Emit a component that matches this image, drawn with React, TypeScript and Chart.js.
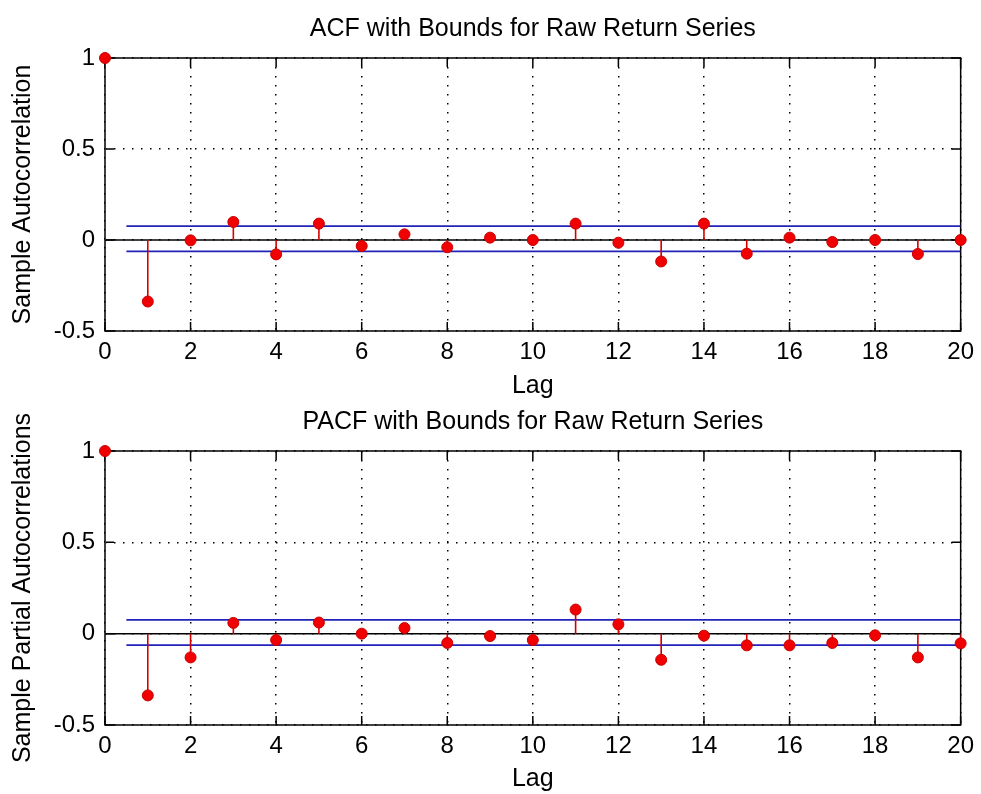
import React, { useEffect, useRef } from 'react';
import { Chart, registerables } from 'chart.js';

Chart.register(...registerables);

const lags = [0, 1, 2, 3, 4, 5, 6, 7, 8, 9, 10, 11, 12, 13, 14, 15, 16, 17, 18, 19, 20];
const acfValues = [1, -0.338, -0.002, 0.099, -0.079, 0.09, -0.033, 0.031, -0.04, 0.013, 0.0, 0.09, -0.015, -0.118, 0.09, -0.075, 0.013, -0.011, 0.0, -0.077, 0.0];
const pacfValues = [1, -0.338, -0.13, 0.059, -0.035, 0.061, 0.0, 0.031, -0.051, -0.013, -0.035, 0.132, 0.051, -0.143, -0.011, -0.064, -0.064, -0.051, -0.009, -0.13, -0.053];
const acfBounds = [0.076, -0.063];
const pacfBounds = [0.076, -0.063];
const boundLagRange = [0.5, 20];
const baselineLagRange = [0, 20];
const xTickValues = [0, 2, 4, 6, 8, 10, 12, 14, 16, 18, 20];
const xTickLabels = ['0', '2', '4', '6', '8', '10', '12', '14', '16', '18', '20'];
const yTickValues = [-0.5, 0, 0.5, 1];
const yTickLabels = ['-0.5', '0', '0.5', '1'];

const FONT = "'Liberation Sans', Arial, Helvetica, sans-serif";

const framePlugin = {
  id: 'matlabFrame',
  beforeDatasetsDraw(chart: any) {
    const { ctx, chartArea: a, scales } = chart;
    ctx.save();
    ctx.strokeStyle = '#000';
    ctx.lineWidth = 1.5;
    ctx.strokeRect(a.left, a.top, a.right - a.left, a.bottom - a.top);
    const L = 9;
    ctx.beginPath();
    scales.x.ticks.forEach((t: any) => {
      const px = scales.x.getPixelForValue(t.value);
      ctx.moveTo(px, a.bottom);
      ctx.lineTo(px, a.bottom - L);
      ctx.moveTo(px, a.top);
      ctx.lineTo(px, a.top + L);
    });
    scales.y.ticks.forEach((t: any) => {
      const py = scales.y.getPixelForValue(t.value);
      ctx.moveTo(a.left, py);
      ctx.lineTo(a.left + L, py);
      ctx.moveTo(a.right, py);
      ctx.lineTo(a.right - L, py);
    });
    ctx.stroke();
    ctx.restore();
  },
};

type PanelProps = {
  title: string;
  yLabel: string;
  values: number[];
  bounds: number[];
  top: number;
  height: number;
  plotTop: number;
  plotBottom: number;
  titleMid: number;
  xTitleOffset: number;
};

function Panel(p: PanelProps) {
  const ref = useRef<HTMLCanvasElement | null>(null);
  useEffect(() => {
    if (!ref.current) return;
    const stems: any[] = [];
    lags.forEach((l, i) => {
      stems.push({ x: l, y: 0 });
      stems.push({ x: l, y: p.values[i] });
      stems.push({ x: l, y: null });
    });
    const markers = lags.map((l, i) => ({ x: l, y: p.values[i] }));
    const titleLH = 30;
    const chart = new Chart(ref.current, {
      type: 'scatter',
      data: {
        datasets: [
          {
            data: markers,
            showLine: false,
            pointRadius: 5.5,
            pointBackgroundColor: '#f00000',
            pointBorderColor: '#c80000',
            pointBorderWidth: 1,
            clip: false,
          } as any,
          {
            data: stems,
            showLine: true,
            spanGaps: false,
            borderColor: '#d40000',
            borderWidth: 1.6,
            pointRadius: 0,
          },
          {
            data: boundLagRange.map((x) => ({ x, y: p.bounds[0] })),
            showLine: true,
            borderColor: '#2222bb',
            borderWidth: 1.8,
            pointRadius: 0,
          },
          {
            data: boundLagRange.map((x) => ({ x, y: p.bounds[1] })),
            showLine: true,
            borderColor: '#2222bb',
            borderWidth: 1.8,
            pointRadius: 0,
          },
          {
            data: baselineLagRange.map((x) => ({ x, y: 0 })),
            showLine: true,
            borderColor: '#000000',
            borderWidth: 1.5,
            pointRadius: 0,
          },
        ],
      },
      options: {
        animation: false,
        responsive: false,
        events: [],
        layout: { padding: { left: 0, right: 17, top: 0, bottom: 0 } },
        plugins: {
          legend: { display: false },
          tooltip: { enabled: false },
          title: {
            display: true,
            fullSize: false,
            text: p.title,
            color: '#000',
            font: { family: FONT, size: 25, weight: 'normal', lineHeight: 1.2 },
            padding: { top: p.titleMid - titleLH / 2, bottom: p.plotTop - p.titleMid - titleLH / 2 },
          },
        },
        scales: {
          x: {
            type: 'linear',
            min: 0,
            max: 20,
            afterBuildTicks: (s: any) => {
              s.ticks = xTickValues.map((v) => ({ value: v }));
            },
            afterFit: (s: any) => {
              s.height = p.height - p.plotBottom;
            },
            grid: {
              color: '#000',
              lineWidth: 1.5,
              drawTicks: false,
              borderDash: [1.5, 7.5],
            } as any,
            border: { display: false, dash: [1.5, 7.5] },
            ticks: {
              color: '#000',
              padding: 7,
              maxRotation: 0,
              autoSkip: false,
              font: { family: FONT, size: 24 },
              callback: (_v: any, i: number) => xTickLabels[i],
            },
            title: {
              display: true,
              text: 'Lag',
              color: '#000',
              font: { family: FONT, size: 25, lineHeight: 1.2 },
              padding: { top: 0, bottom: p.xTitleOffset - 15 },
            },
          },
          y: {
            type: 'linear',
            min: -0.5,
            max: 1,
            afterBuildTicks: (s: any) => {
              s.ticks = yTickValues.map((v) => ({ value: v }));
            },
            afterFit: (s: any) => {
              s.width = 105;
            },
            grid: {
              color: '#000',
              lineWidth: 1.5,
              drawTicks: false,
              borderDash: [1.5, 7.5],
            } as any,
            border: { display: false, dash: [1.5, 7.5] },
            ticks: {
              color: '#000',
              padding: 10,
              autoSkip: false,
              font: { family: FONT, size: 24 },
              callback: (_v: any, i: number) => yTickLabels[i],
            },
            title: {
              display: true,
              text: p.yLabel,
              color: '#000',
              font: { family: FONT, size: 25, lineHeight: 1.2 },
              padding: { top: 8, bottom: 0 },
            },
          },
        },
      },
      plugins: [framePlugin],
    } as any);
    return () => chart.destroy();
  }, []);
  return (
    <canvas
      ref={ref}
      width={981}
      height={p.height}
      style={{ position: 'absolute', left: 0, top: p.top, width: 981, height: p.height, display: 'block' }}
    />
  );
}

export default function App() {
  return (
    <div style={{ position: 'absolute', left: 0, top: 0, width: 981, height: 794, background: '#fff', overflow: 'hidden' }}>
      <Panel
        title="ACF with Bounds for Raw Return Series"
        yLabel="Sample Autocorrelation"
        values={acfValues}
        bounds={acfBounds}
        top={0}
        height={405}
        plotTop={58}
        plotBottom={331}
        titleMid={29.3}
        xTitleOffset={19}
      />
      <Panel
        title="PACF with Bounds for Raw Return Series"
        yLabel="Sample Partial Autocorrelations"
        values={pacfValues}
        bounds={pacfBounds}
        top={397}
        height={397}
        plotTop={54}
        plotBottom={328}
        titleMid={25.3}
        xTitleOffset={15}
      />
    </div>
  );
}
